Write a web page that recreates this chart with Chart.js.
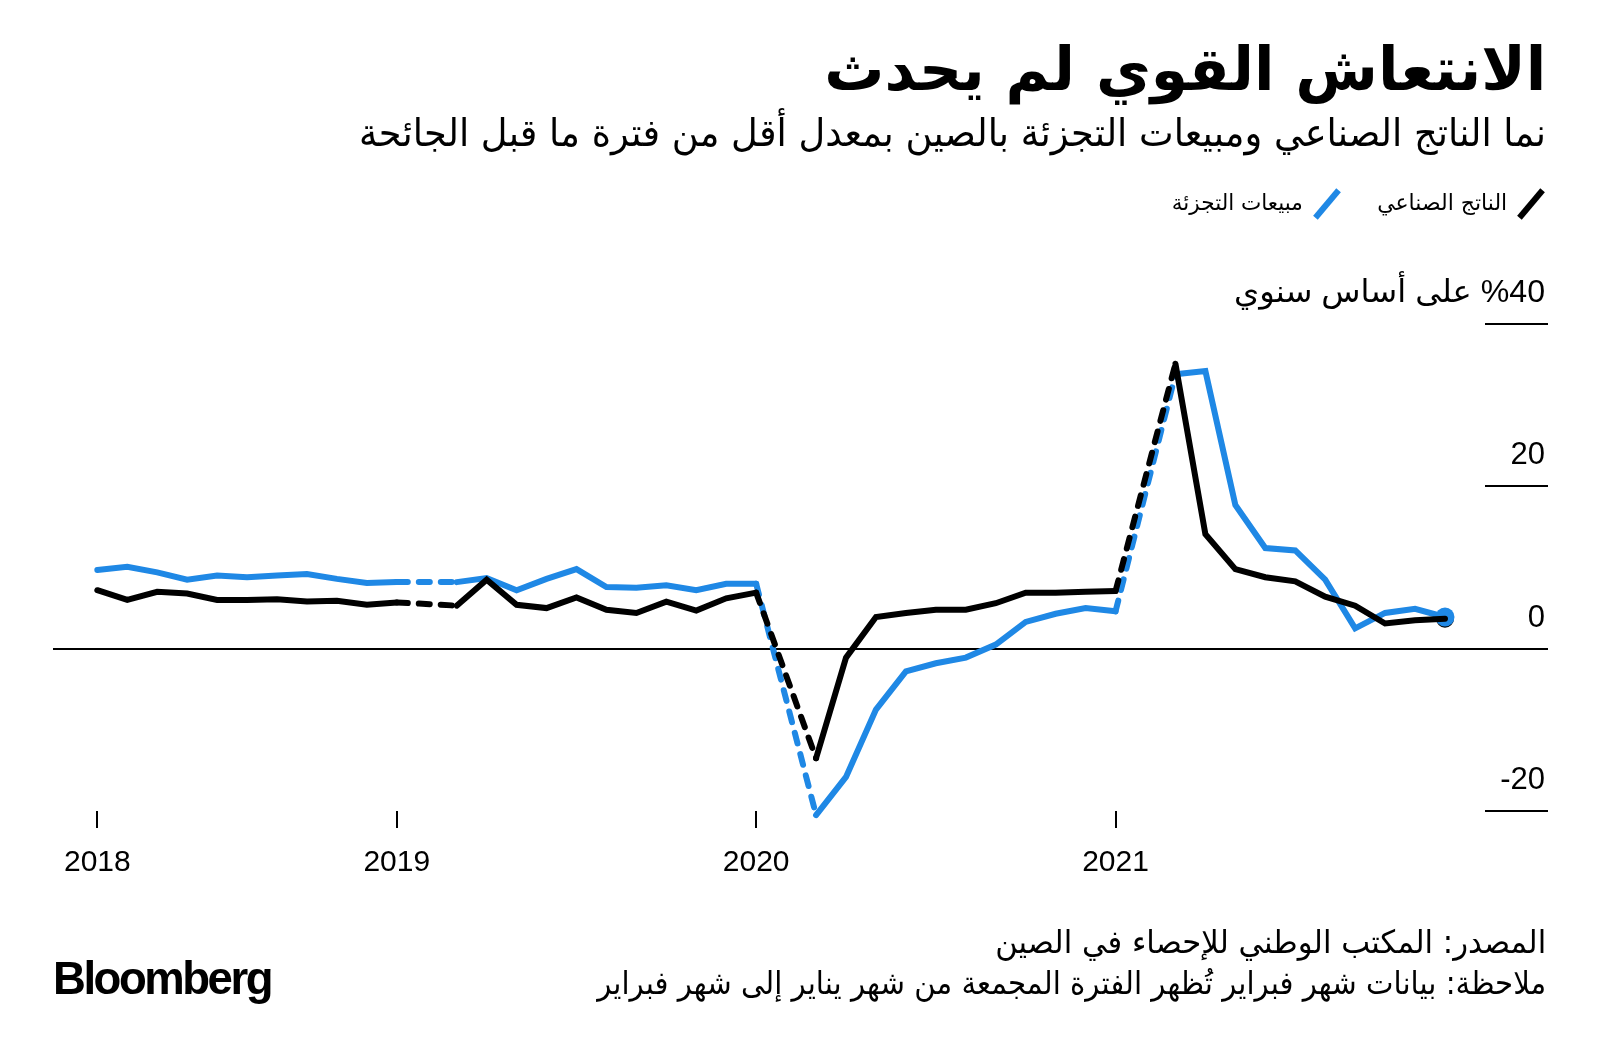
<!DOCTYPE html>
<html lang="ar">
<head>
<meta charset="utf-8">
<script src="https://cdn.jsdelivr.net/npm/chart.js@4.4.1/dist/chart.umd.min.js"></script>
<style>
html,body{margin:0;padding:0;background:#fff;}
#wrap{position:relative;width:1600px;height:1057px;overflow:hidden;background:#fff;}
#c{position:absolute;left:0;top:0;}
.t{position:absolute;direction:rtl;white-space:nowrap;color:#000;font-family:'DejaVu Sans',sans-serif;line-height:1;transform-origin:100% 50%;}
.slash{position:absolute;width:6px;height:36px;transform:rotate(40deg);}
#logo{position:absolute;left:53px;top:955px;font-family:'Liberation Sans',Arial,sans-serif;font-weight:bold;font-size:46px;line-height:1;letter-spacing:-2.5px;color:#000;transform-origin:0 50%;white-space:nowrap;}
</style>
</head>
<body>
<div id="wrap">
<canvas id="c" width="1600" height="1057"></canvas>
<div class="t fit" data-w="722" style="right:54px;top:39px;font-size:60px;font-weight:bold;">الانتعاش القوي لم يحدث</div>
<div class="t fit" data-w="1187" style="right:54px;top:114px;font-size:38px;">نما الناتج الصناعي ومبيعات التجزئة بالصين بمعدل أقل من فترة ما قبل الجائحة</div>
<div class="slash" style="left:1528px;top:186px;background:#000;"></div>
<div class="t fit" id="leg1" data-w="130" style="right:93px;top:192px;font-size:22px;"></div>
<div class="slash" style="left:1324px;top:186px;background:#1f88e5;"></div>
<div class="t fit" id="leg2" data-w="131" style="right:297px;top:192px;font-size:22px;"></div>
<div class="t fit" data-w="551" style="right:54px;top:926px;font-size:32px;">المصدر: المكتب الوطني للإحصاء في الصين</div>
<div class="t fit" data-w="949" style="right:54px;top:967px;font-size:32px;">ملاحظة: بيانات شهر فبراير تُظهر الفترة المجمعة من شهر يناير إلى شهر فبراير</div>
<div id="logo">Bloomberg</div>
</div>
<script>
// ---- data (year-on-year %, monthly; January folded into February) ----
const months = [
  '2018-02','2018-03','2018-04','2018-05','2018-06','2018-07','2018-08','2018-09','2018-10','2018-11','2018-12',
  '2019-02','2019-03','2019-04','2019-05','2019-06','2019-07','2019-08','2019-09','2019-10','2019-11','2019-12',
  '2020-02','2020-03','2020-04','2020-05','2020-06','2020-07','2020-08','2020-09','2020-10','2020-11','2020-12',
  '2021-02','2021-03','2021-04','2021-05','2021-06','2021-07','2021-08','2021-09','2021-10','2021-11'
];
const industrialOutput = [
  7.2, 6.0, 7.0, 6.8, 6.0, 6.0, 6.1, 5.8, 5.9, 5.4, 5.7,
  5.3, 8.5, 5.4, 5.0, 6.3, 4.8, 4.4, 5.8, 4.7, 6.2, 6.9,
  -13.5, -1.1, 3.9, 4.4, 4.8, 4.8, 5.6, 6.9, 6.9, 7.0, 7.1,
  35.1, 14.1, 9.8, 8.8, 8.3, 6.4, 5.3, 3.1, 3.5, 3.7
];
const retailSales = [
  9.7, 10.1, 9.4, 8.5, 9.0, 8.8, 9.0, 9.2, 8.6, 8.1, 8.2,
  8.2, 8.7, 7.2, 8.6, 9.8, 7.6, 7.5, 7.8, 7.2, 8.0, 8.0,
  -20.5, -15.8, -7.5, -2.8, -1.8, -1.1, 0.5, 3.3, 4.3, 5.0, 4.6,
  33.8, 34.2, 17.7, 12.4, 12.1, 8.5, 2.5, 4.4, 4.9, 3.9
];
const seriesNames = ['الناتج الصناعي', 'مبيعات التجزئة'];
const xTickPositions = [2, 12, 24, 36];
const xTickLabels = ['2018', '2019', '2020', '2021'];
const yTickValues = [-20, 0, 20, 40];
const yTickLabels = ['-20', '0', '20', '%40 على أساس سنوي'];

document.getElementById('leg1').textContent = seriesNames[0];
document.getElementById('leg2').textContent = seriesNames[1];

const BLUE = '#1f88e5';
const monthIndex = months.map(s => { const [y, m] = s.split('-').map(Number); return (y - 2018) * 12 + m; });
const toPts = arr => monthIndex.map((x, i) => ({ x, y: arr[i] }));
const last = months.length - 1;
const isGap = c => (c.p1.parsed.x - c.p0.parsed.x) > 1.5;
const seg = {
  borderDash: c => isGap(c) ? [11, 11] : undefined
};

const axisDecor = {
  id: 'axisDecor',
  beforeDatasetsDraw(chart) {
    const { ctx, chartArea, scales: { y } } = chart;
    ctx.save();
    ctx.strokeStyle = '#000';
    ctx.lineWidth = 2;
    yTickValues.forEach((v, i) => {
      const py = Math.round(y.getPixelForValue(v));
      ctx.beginPath();
      ctx.moveTo(v === 0 ? chartArea.left : chartArea.right - 63, py);
      ctx.lineTo(chartArea.right, py);
      ctx.stroke();
      const label = yTickLabels[i];
      const rtl = /[\u0600-\u06FF]/.test(label);
      ctx.fillStyle = '#000';
      ctx.font = "31px 'Liberation Sans', 'DejaVu Sans', sans-serif";
      ctx.direction = rtl ? 'rtl' : 'ltr';
      ctx.textAlign = 'right';
      ctx.textBaseline = 'alphabetic';
      ctx.save();
      ctx.translate(chartArea.right - 3, py - 22);
      if (rtl) {
        const w = ctx.measureText(label).width;
        ctx.scale(311 / w, 1);
      }
      ctx.fillText(label, 0, 0);
      ctx.restore();
    });
    ctx.restore();
  }
};

new Chart(document.getElementById('c'), {
  type: 'line',
  data: {
    datasets: [
      {
        label: seriesNames[0],
        data: toPts(industrialOutput),
        borderColor: '#000', backgroundColor: '#000',
        borderWidth: 6, tension: 0, pointRadius: 0,
        borderCapStyle: 'round', borderJoinStyle: 'miter',
        segment: seg, clip: false, order: 0
      },
      {
        label: seriesNames[1],
        data: toPts(retailSales),
        borderColor: BLUE, backgroundColor: BLUE,
        borderWidth: 6, tension: 0,
        pointRadius: c => c.dataIndex === last ? 9.5 : 0,
        pointBorderWidth: 0, pointHoverRadius: 0,
        borderCapStyle: 'round', borderJoinStyle: 'miter',
        segment: seg, clip: false, order: 1
      },
      {
        label: 'end',
        data: [{ x: monthIndex[last], y: industrialOutput[last] }],
        showLine: false, pointRadius: 9, pointBorderWidth: 0,
        backgroundColor: '#000', borderColor: '#000',
        clip: false, order: 2
      }
    ]
  },
  options: {
    responsive: false,
    animation: false,
    devicePixelRatio: 1,
    layout: { padding: { left: 53, right: 52, top: 324, bottom: 186 } },
    plugins: { legend: { display: false }, tooltip: { enabled: false } },
    events: [],
    scales: {
      x: {
        type: 'linear', min: 0.52, max: 50.44,
        afterBuildTicks: s => { s.ticks = xTickPositions.map(v => ({ value: v })); },
        afterFit: s => { s.height = 60; },
        grid: { display: true, drawOnChartArea: false, drawTicks: true, tickLength: 17, color: '#000', lineWidth: 2 },
        border: { display: false },
        ticks: {
          autoSkip: false, maxRotation: 0, minRotation: 0, padding: 17, color: '#000',
          font: { family: "'Liberation Sans', Arial, sans-serif", size: 30 },
          callback: v => { const k = xTickPositions.indexOf(v); return k >= 0 ? xTickLabels[k] : ''; }
        }
      },
      y: {
        type: 'linear', min: -20, max: 40, display: false
      }
    }
  },
  plugins: [axisDecor]
});

// fit text widths to the layout
document.querySelectorAll('.fit').forEach(el => {
  const w = el.getBoundingClientRect().width;
  const target = +el.dataset.w;
  el.style.transform = `scaleX(${target / w})`;
});
const logo = document.getElementById('logo');
logo.style.transform = `scaleX(${218 / logo.getBoundingClientRect().width})`;
</script>
</body>
</html>
